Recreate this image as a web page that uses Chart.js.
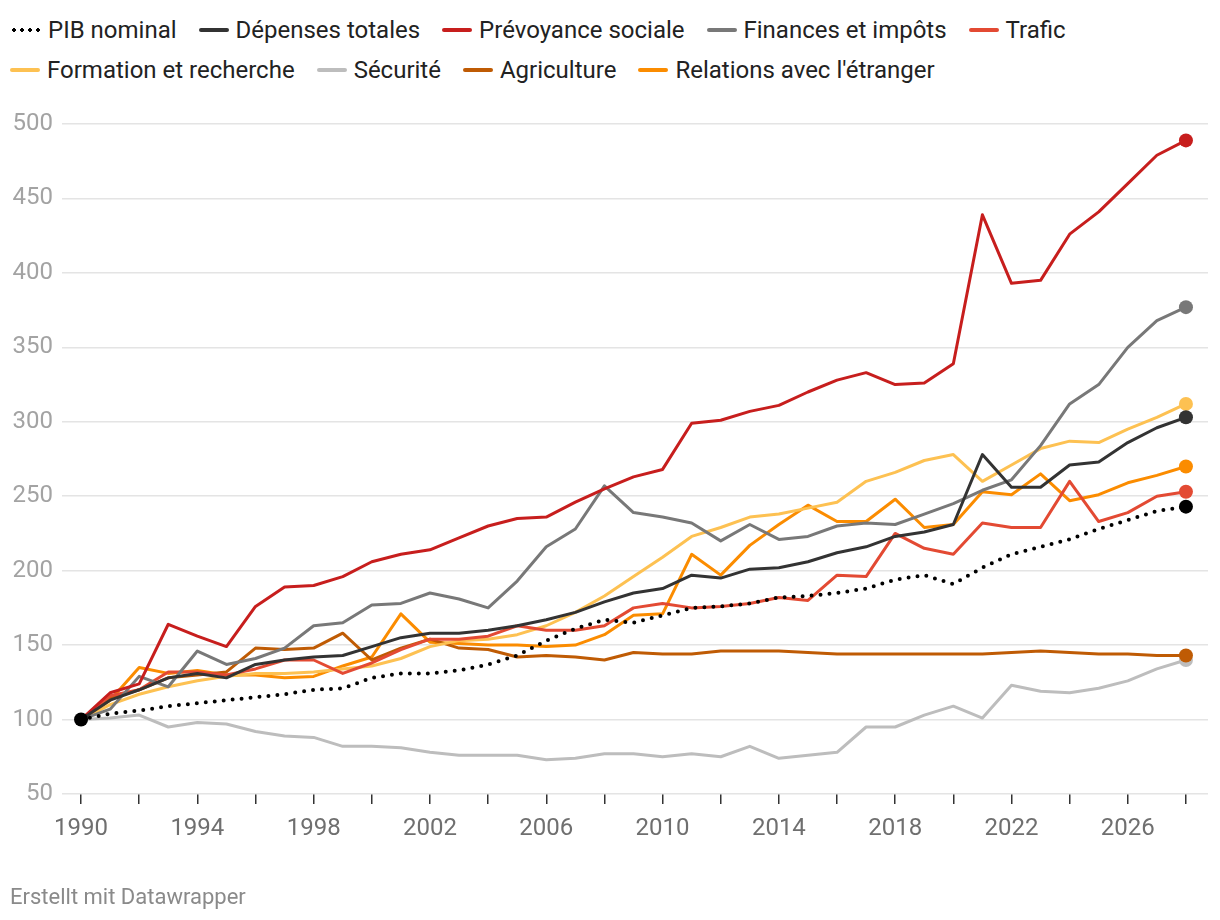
<!DOCTYPE html>
<html>
<head>
<meta charset="utf-8">
<script src="https://cdn.jsdelivr.net/npm/chart.js@4.4.0/dist/chart.umd.min.js"></script>
<style>
  html, body { margin: 0; padding: 0; background: #fff; }
  body { width: 1220px; height: 920px; position: relative; overflow: hidden; font-family: Roboto, "Noto Sans", sans-serif; }
  #wrap { position: absolute; left: 0; top: 0; width: 1220px; height: 920px; }
  .legend { position: absolute; left: 10px; font-size: 24px; line-height: 28px; color: #222; display: flex; align-items: center; white-space: nowrap; }
  .item { display: flex; align-items: center; margin-right: 22px; }
  .sw { width: 30px; height: 4px; border-radius: 2px; margin-right: 7px; }
  .dots { width: 32px; height: 4px; margin-right: 6px; background-image: radial-gradient(circle, #000 1.9px, transparent 2.1px); background-size: 8px 4px; background-repeat: repeat-x; }
  #footer { position: absolute; left: 10px; top: 883px; font-size: 22px; line-height: 28px; color: #8a8a8a; }
</style>
</head>
<body>
<div class="legend" id="row1" style="top:16px"></div>
<div class="legend" id="row2" style="top:56px"></div>
<div id="wrap"><canvas id="c" width="1220" height="920"></canvas></div>
<div id="footer">Erstellt mit Datawrapper</div>
<script>
// ---- data ----
const years = [1990,1991,1992,1993,1994,1995,1996,1997,1998,1999,2000,2001,2002,2003,2004,2005,2006,2007,2008,2009,2010,2011,2012,2013,2014,2015,2016,2017,2018,2019,2020,2021,2022,2023,2024,2025,2026,2027,2028];
const pibNominal = [100,104,106,109,111,113,115,117,120,121,128,131,131,133,137,143,153,161,167,165,170,175,176,178,182,183,185,188,194,197,191,202,211,216,221,228,234,240,243];
const depensesTotales = [100,113,120,128,131,128,137,140,142,143,149,155,158,158,160,163,167,172,179,185,188,197,195,201,202,206,212,216,223,226,231,278,256,256,271,273,286,296,303];
const prevoyanceSociale = [100,118,124,164,156,149,176,189,190,196,206,211,214,222,230,235,236,246,255,263,268,299,301,307,311,320,328,333,325,326,339,439,393,395,426,441,460,479,489];
const financesImpots = [100,107,129,122,146,137,141,148,163,165,177,178,185,181,175,193,216,228,257,239,236,232,220,231,221,223,230,232,231,238,245,254,261,284,312,325,350,368,377];
const trafic = [100,116,120,132,132,130,134,140,140,131,138,147,154,154,156,163,160,160,163,175,178,175,176,178,182,180,197,196,225,215,211,232,229,229,260,233,239,250,253];
const formationRecherche = [100,110,117,122,126,129,131,131,132,134,136,141,149,153,154,157,163,172,183,196,209,223,229,236,238,242,246,260,266,274,278,260,271,282,287,286,295,303,312];
const securite = [100,101,103,95,98,97,92,89,88,82,82,81,78,76,76,76,73,74,77,77,75,77,75,82,74,76,78,95,95,103,109,101,123,119,118,121,126,134,140];
const agriculture = [100,114,120,128,130,132,148,147,148,158,140,148,154,148,147,142,143,142,140,145,144,144,146,146,146,145,144,144,144,144,144,144,145,146,145,144,144,143,143];
const relationsEtranger = [100,113,135,131,133,130,130,128,129,136,142,171,152,151,150,150,149,150,157,170,171,211,197,217,231,244,233,233,248,229,231,253,251,265,247,251,259,264,270];
const yTicks = [50,100,150,200,250,300,350,400,450,500];
const xTickYears = [1990,1992,1994,1996,1998,2000,2002,2004,2006,2008,2010,2012,2014,2016,2018,2020,2022,2024,2026,2028];
const xLabelYears = [1990,1994,1998,2002,2006,2010,2014,2018,2022,2026];

const seriesDefs = [
  { label: 'PIB nominal', values: pibNominal, color: '#000000', dotted: true },
  { label: 'Dépenses totales', values: depensesTotales, color: '#333333' },
  { label: 'Prévoyance sociale', values: prevoyanceSociale, color: '#c71e1d' },
  { label: 'Finances et impôts', values: financesImpots, color: '#787878' },
  { label: 'Trafic', values: trafic, color: '#e34a33' },
  { label: 'Formation et recherche', values: formationRecherche, color: '#fdc152' },
  { label: 'Sécurité', values: securite, color: '#bdbdbd', order: 1 },
  { label: 'Agriculture', values: agriculture, color: '#bf5b04' },
  { label: "Relations avec l'étranger", values: relationsEtranger, color: '#fb8c00' }
];

// ---- legend (HTML) ----
seriesDefs.forEach((s, i) => {
  const item = document.createElement('div');
  item.className = 'item';
  const sw = document.createElement('div');
  if (s.dotted) { sw.className = 'dots'; } else { sw.className = 'sw'; sw.style.background = s.color; }
  const tx = document.createElement('span');
  tx.textContent = s.label;
  item.appendChild(sw); item.appendChild(tx);
  document.getElementById(i < 5 ? 'row1' : 'row2').appendChild(item);
});

// ---- chart ----
const last = years.length - 1;
const datasets = seriesDefs.map(s => ({
  label: s.label,
  data: s.values.map((v, i) => ({ x: years[i], y: v })),
  borderColor: s.color,
  backgroundColor: s.color,
  borderWidth: s.dotted ? 4 : 3,
  borderDash: s.dotted ? [0, 9] : [],
  borderCapStyle: s.dotted ? 'round' : 'butt',
  borderJoinStyle: 'round',
  tension: 0,
  order: s.order || 0,
  pointRadius: ctx => (ctx.dataIndex === last || (s.dotted && ctx.dataIndex === 0)) ? 7 : 0,
  pointHoverRadius: 0,
  pointBorderWidth: 0,
  pointBackgroundColor: s.color
}));

new Chart(document.getElementById('c'), {
  type: 'line',
  data: { datasets },
  options: {
    responsive: false,
    animation: false,
    events: [],
    layout: { padding: { top: 124, right: 12, bottom: 66, left: 0 } },
    plugins: { legend: { display: false }, tooltip: { enabled: false } },
    scales: {
      x: {
        type: 'linear',
        min: 1990 - 19 / 29,
        max: 2028 + 22 / 29,
        afterBuildTicks: scale => { scale.ticks = xTickYears.map(v => ({ value: v })); },
        afterFit: scale => { scale.height = 60; },
        border: { display: false },
        grid: { drawOnChartArea: false, drawTicks: true, tickLength: 10, color: '#333', lineWidth: 1.5 },
        ticks: {
          autoSkip: false, maxRotation: 0, padding: 11,
          color: '#6f6f6f', font: { family: 'Roboto', size: 24 },
          callback: v => xLabelYears.includes(v) ? String(v) : ''
        }
      },
      y: {
        min: 50, max: 500,
        afterBuildTicks: scale => { scale.ticks = yTicks.map(v => ({ value: v })); },
        afterFit: scale => { scale.width = 62; },
        border: { display: false },
        grid: { drawTicks: false, color: '#e4e4e4', lineWidth: 1.5 },
        ticks: { padding: 9, color: '#a3a3a3', font: { family: 'Roboto', size: 24 } }
      }
    }
  }
});
</script>
</body>
</html>
